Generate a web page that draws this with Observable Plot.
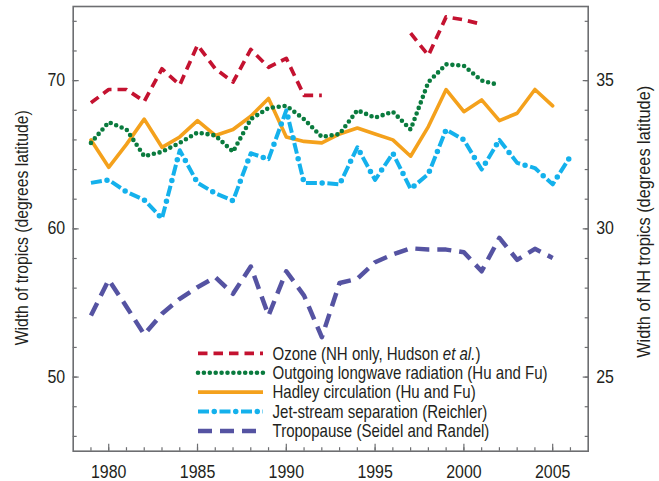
<!DOCTYPE html>
<html>
<head>
<meta charset="utf-8">
<script src="https://cdn.jsdelivr.net/npm/d3@7"></script>
<script src="https://cdn.jsdelivr.net/npm/@observablehq/plot@0.6"></script>
<style>
html, body { margin: 0; padding: 0; background: #fff; }
#chart { width: 659px; height: 481px; }
</style>
</head>
<body>
<div id="chart"></div>
<script>
// ---- data ----
const years = d3.range(1979, 2007); // 1979..2006

const ozone = [68.5, 69.4, 69.4, 68.6, 70.8, 69.7, 72.4, 70.8, 69.9, 72.1, 70.9, 71.5, 69.0, 69.0,
               null, null, null, null, 73.2, 71.7, 74.3, 74.1, 73.8];
const olr = [65.8, 67.2, 66.7, 64.9, 65.2, 65.8, 66.5, 66.3, 65.2, 67.4, 68.15, 68.3, 67.4, 66.2,
             66.4, 68.0, 67.5, 67.9, 66.7, 69.9, 71.1, 71.0, 70.0, 69.7];
const hadley = [66.0, 64.15, 65.7, 67.4, 65.5, 66.2, 67.3, 66.3, 66.7, 67.6, 68.8, 66.2, 65.9, 65.8,
                66.4, 66.8, 66.4, 66.0, 64.9, 66.9, 69.4, 67.9, 68.7, 67.3, 67.8, 69.4, 68.3];
const jet = [63.1, 63.3, 62.5, 61.95, 60.7, 65.3, 63.1, 62.4, 61.9, 65.1, 64.7, 68.0, 63.1, 63.1,
             63.0, 65.5, 63.3, 65.1, 62.7, 63.7, 66.7, 66.0, 64.0, 66.0, 64.45, 64.1, 63.0, 64.9];
const tropo = [54.15, 56.56, 54.75, 52.87, 54.27, 55.28, 56.06, 56.74, 55.62, 57.46, 54.15, 57.14, 55.5, 52.69,
               56.35, 56.63, 57.75, 58.27, 58.69, 58.6, 58.6, 58.42, 57.14, 59.39, 57.91, 58.65, 58.04];

const seriesNames = [
  "Ozone (NH only, Hudson et al.)",
  "Outgoing longwave radiation (Hu and Fu)",
  "Hadley circulation (Hu and Fu)",
  "Jet-stream separation (Reichler)",
  "Tropopause (Seidel and Randel)"
];

const xMajorTicks = [1980, 1985, 1990, 1995, 2000, 2005];
const xMinorTicks = d3.range(1979, 2007);
const yMajorTicks = [50, 60, 70];
const yMinorTicks = d3.range(46, 75, 2);
const leftTitle = "Width of tropics (degrees latitude)";
const rightTitle = "Width of NH tropics (degrees latitude)";

// ---- styles ----
const FONT = "'Liberation Sans', Arial, Helvetica, sans-serif";
const FS = 17.5;
const TEXT = "#231f20";
const AXIS = "#6d6e71";
const C = {ozone: "#c41230", olr: "#0a7b3e", hadley: "#f4a11c", jet: "#14b1ec", tropo: "#5553a2"};

const styles = {
  ozone: [{stroke: C.ozone, strokeWidth: 3.7, strokeDasharray: "9.5,6", strokeLinecap: "butt"}],
  olr: [{stroke: C.olr, strokeWidth: 4.6, strokeDasharray: "0,5.9", strokeLinecap: "round"}],
  hadley: [{stroke: C.hadley, strokeWidth: 3.6}],
  jet: [{stroke: C.jet, strokeWidth: 4, strokeDasharray: "11,10.5", strokeLinecap: "butt"},
        {stroke: C.jet, strokeWidth: 5.5, strokeDasharray: "0,21.5", strokeDashoffset: 5.25, strokeLinecap: "round"}],
  tropo: [{stroke: C.tropo, strokeWidth: 4.5, strokeDasharray: "14,8", strokeLinecap: "butt"}]
};

function series(values) {
  return values.map((v, i) => ({year: years[i], value: v}));
}
function lineMarks(values, key) {
  return styles[key].map(s => Plot.line(series(values), {x: "year", y: "value", ...s}));
}

const plot = Plot.plot({
  width: 659,
  height: 481,
  marginLeft: 72.7,
  marginRight: 71.3,
  marginTop: 6,
  marginBottom: 30.3,
  x: {domain: [1978, 2007]},
  y: {domain: [45, 75]},
  style: {fontFamily: FONT, fontSize: FS + "px", color: TEXT, background: "#fff", overflow: "visible"},
  marks: [
    // ticks (inside the frame)
    Plot.axisX(xMinorTicks, {anchor: "bottom", tickSize: 3.5, dy: -3.5, fill: "none", stroke: AXIS, strokeWidth: 1.2, label: null}),
    Plot.axisX(xMajorTicks, {anchor: "bottom", tickSize: 7, dy: -7, fill: "none", stroke: AXIS, strokeWidth: 1.2, label: null}),
    Plot.axisX(xMajorTicks, {anchor: "bottom", tickSize: 0, tickPadding: 14, tickFormat: d => String(d), fontSize: FS, fill: TEXT, label: null}),
    Plot.axisY(yMinorTicks, {anchor: "left", tickSize: 4, dx: 4, fill: "none", stroke: AXIS, strokeWidth: 1.2, label: null}),
    Plot.axisY(yMajorTicks, {anchor: "left", tickSize: 6, dx: 6, fill: "none", stroke: AXIS, strokeWidth: 1.2, label: null}),
    Plot.axisY(yMajorTicks, {anchor: "left", tickSize: 0, tickPadding: 8, fontSize: FS, fill: TEXT, label: null}),
    Plot.axisY(yMinorTicks, {anchor: "right", tickSize: 4, dx: -4, fill: "none", stroke: AXIS, strokeWidth: 1.2, label: null}),
    Plot.axisY(yMajorTicks, {anchor: "right", tickSize: 6, dx: -6, fill: "none", stroke: AXIS, strokeWidth: 1.2, label: null}),
    Plot.axisY(yMajorTicks, {anchor: "right", tickSize: 0, tickPadding: 8, tickFormat: d => String(d / 2), fontSize: FS, fill: TEXT, label: null}),
    // axis titles
    Plot.text([leftTitle], {text: d => d, frameAnchor: "left", textAnchor: "middle", rotate: -90, dx: -51, dy: -1, fontSize: FS, fill: TEXT}),
    Plot.text([rightTitle], {text: d => d, frameAnchor: "right", textAnchor: "middle", rotate: -90, dx: 56.5, dy: -7, fontSize: FS, fill: TEXT}),
    // data lines
    ...lineMarks(hadley, "hadley"),
    ...lineMarks(olr, "olr"),
    ...lineMarks(jet, "jet"),
    ...lineMarks(ozone, "ozone"),
    ...lineMarks(tropo, "tropo"),
    Plot.frame({stroke: AXIS, strokeWidth: 1.6})
  ]
});

document.getElementById("chart").appendChild(plot);

// ---- condense Plot's own texts (the reference uses a condensed sans) ----
function condense(el, factor, target) {
  const L = el.getComputedTextLength();
  if (!L) return;
  el.setAttribute("textLength", target != null ? target : L * factor);
  el.setAttribute("lengthAdjust", "spacingAndGlyphs");
}
plot.querySelectorAll("text").forEach(el => {
  const s = el.textContent;
  if (s === leftTitle) condense(el, 1, 235);
  else if (s === rightTitle) condense(el, 1, 272);
  else condense(el, 0.91);
});

// ---- legend (inside the plot area) ----
const svg = d3.select(plot);
const keys = ["ozone", "olr", "hadley", "jet", "tropo"];
const lg = svg.append("g").attr("class", "legend");
keys.forEach((k, i) => {
  const y = 353.3 + i * 19.4;
  styles[k].forEach(s => {
    lg.append("line")
      .attr("x1", 198).attr("x2", 263).attr("y1", y).attr("y2", y)
      .attr("stroke", s.stroke)
      .attr("stroke-width", s.strokeWidth)
      .attr("stroke-dasharray", s.strokeDasharray || null)
      .attr("stroke-dashoffset", s.strokeDashoffset || null)
      .attr("stroke-linecap", s.strokeLinecap || "butt");
  });
  const t = lg.append("text")
    .attr("transform", `translate(272.5,${y + 6.2}) scale(0.86,1)`)
    .attr("text-anchor", "start")
    .attr("fill", TEXT)
    .attr("font-family", FONT)
    .attr("font-size", FS);
  const name = seriesNames[i];
  if (name.includes("et al.")) {
    const [a, b] = name.split("et al.");
    t.append("tspan").text(a);
    t.append("tspan").attr("font-style", "italic").text("et al.");
    t.append("tspan").text(b);
  } else {
    t.text(name);
  }
});
</script>
</body>
</html>
